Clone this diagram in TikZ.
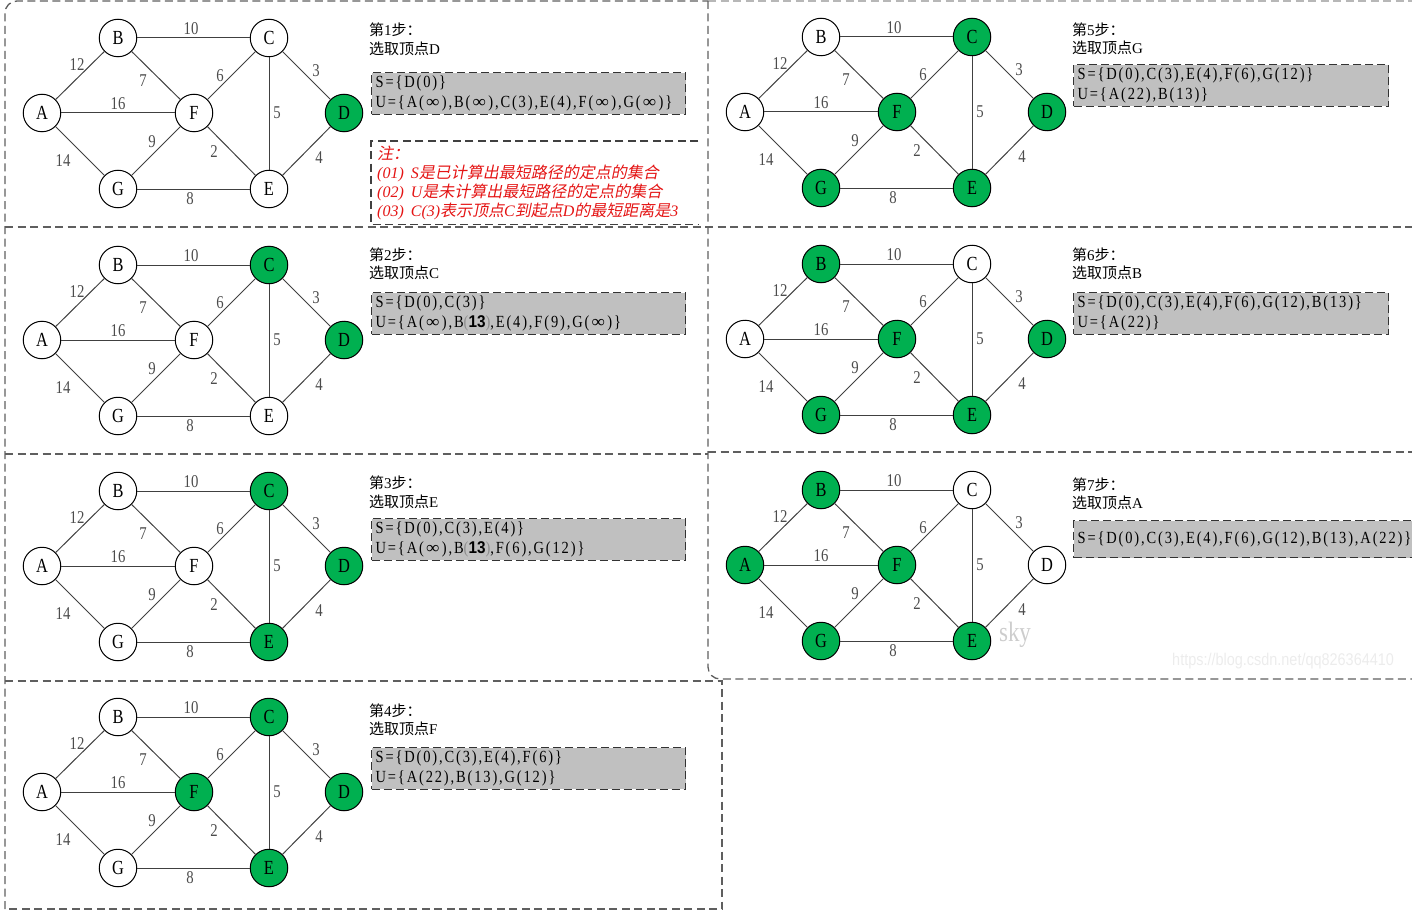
\documentclass[tikz,border=0pt]{standalone}
\usepackage{fontspec}
\usepackage{graphicx}
\usepackage{tikz}
\usetikzlibrary{positioning}
\setmainfont{Liberation Serif}
\newfontfamily\cjk{Noto Sans CJK SC}
\newfontfamily\cjkit[FakeSlant=0.2]{Noto Sans CJK SC}
\newfontfamily\narrow[FakeStretch=0.82]{Liberation Serif}
\newfontfamily\setfont[FakeStretch=0.85,LetterSpace=11]{Liberation Serif}
\newfontfamily\boldsans[FakeStretch=0.9]{Liberation Sans}
\newfontfamily\marksans[FakeStretch=0.85]{Liberation Sans}
\definecolor{VisitGreen}{RGB}{0,176,80}
\definecolor{BoxGray}{RGB}{192,192,192}
\definecolor{FrameGray}{RGB}{95,95,95}
\definecolor{NoteRed}{RGB}{228,20,20}
\definecolor{MarkGray}{RGB}{205,205,205}
\definecolor{UrlGray}{RGB}{236,236,236}

\tikzset{
  vertex/.style={circle,draw=black,line width=1pt,fill=white,minimum size=37.5pt,
    inner sep=0pt,font=\narrow\fontsize{20}{20}\selectfont},
  done/.style={fill=VisitGreen},
  vA/.style={},vB/.style={},vC/.style={},vD/.style={},vE/.style={},vF/.style={},vG/.style={},
  edge/.style={line width=1pt,draw=black!75},
  weight/.style={inner sep=0pt,text=black!70,font=\narrow\fontsize{18}{18}\selectfont},
  steptitle/.style={anchor=west,align=left,inner sep=0pt,font=\fontsize{15}{18.5}\selectfont},
  stepbox/.style={anchor=north west,draw=black!80,fill=BoxGray,line width=1.3pt,
    dash pattern=on 8pt off 4pt,inner xsep=4pt,align=left,
    font=\setfont\fontsize{17}{19.5}\selectfont},
  frame/.style={draw=FrameGray,line width=1.3pt,dash pattern=on 8pt off 4.5pt},
}
\newcommand{\zh}[1]{{\cjk #1}}
\newcommand{\infy}{\makebox[18pt]{\scalebox{1.3}[1]{∞}}}
\newcommand{\bthirteen}{{\color{black!45}(}{\boldsans\bfseries 13}{\color{black!45})}}
% one graph of the walk: name prefix, shift, visited vertices
\newcommand{\stepgraph}[3]{%
  \begin{scope}[shift={#2},#3]
    \node[vertex,vA] (#1A) at (42,113) {A};
    \node[vertex,vB] (#1B) at (118,38) {B};
    \node[vertex,vC] (#1C) at (269,38) {C};
    \node[vertex,vD] (#1D) at (344,113) {D};
    \node[vertex,vE] (#1E) at (269,189) {E};
    \node[vertex,vF] (#1F) at (194,113) {F};
    \node[vertex,vG] (#1G) at (118,189) {G};
    \foreach \a/\b/\w/\lx/\ly in {A/B/12/77/65,B/C/10/191/29,B/F/7/143/81,A/F/16/118/104,
        F/C/6/220/76,C/D/3/316/71,C/E/5/277/113,G/F/9/152/142,F/E/2/214/152,
        A/G/14/63/161,E/D/4/319/158,G/E/8/190/199}
      \draw[edge] (#1\a) -- (#1\b) node[weight] (#1w\a\b) at (\lx,\ly) {\w};
  \end{scope}}

\begin{document}
\begin{tikzpicture}[x=1pt,y=-1pt]
  \useasboundingbox (0,0) rectangle (1412,912);
  % dashed frames
  \draw[frame,rounded corners=12pt] (5,909) -- (5,1) -- (708,1);
  \draw[frame,draw=FrameGray!45] (708,1) -- (1412,1);
  \draw[frame,rounded corners=12pt] (708,1) -- (708,679) -- (1412,679);
  \draw[frame] (5,227) -- (1412,227);
  \draw[frame] (5,454) -- (708,454);
  \draw[frame] (708,452) -- (1412,452);
  \draw[frame] (5,681) -- (722,681) -- (722,909) -- (5,909);

  % left column
  \stepgraph{s1}{(0,0)}{vD/.style=done}
  \node[steptitle] (t1) at (369,39.5) {\zh{第}1\zh{步：}\\\zh{选取顶点}D};
  \node[stepbox,minimum width=314pt,minimum height=41pt,text width=306pt] (b1) at (371,72)
    {S=\{D(0)\}\\U=\{A(\infy),B(\infy),C(3),E(4),F(\infy),G(\infy)\}};
  \node[anchor=north west,minimum width=327pt,minimum height=83pt,inner xsep=6pt,
    text width=315pt,align=left,text=NoteRed,font=\itshape\fontsize{16}{19}\selectfont] (n1) at (371,141)
    {{\cjkit 注：}\\(01)\hspace{7pt}S{\cjkit 是已计算出最短路径的定点的集合}\\
     (02)\hspace{7pt}U{\cjkit 是未计算出最短路径的定点的集合}\\
     (03)\hspace{7pt}C(3){\cjkit 表示顶点}C{\cjkit 到起点}D{\cjkit 的最短距离是}3};
  \draw[frame,draw=black!75] (n1.north east) -| (n1.south west) -- (n1.south east);

  \stepgraph{s2}{(0,227)}{vC/.style=done,vD/.style=done}
  \node[steptitle] (t2) at (369,264) {\zh{第}2\zh{步：}\\\zh{选取顶点}C};
  \node[stepbox,minimum width=314pt,minimum height=40pt,text width=306pt] (b2) at (371,292)
    {S=\{D(0),C(3)\}\\U=\{A(\infy),B\bthirteen,E(4),F(9),G(\infy)\}};

  \stepgraph{s3}{(0,453)}{vC/.style=done,vD/.style=done,vE/.style=done}
  \node[steptitle] (t3) at (369,492.5) {\zh{第}3\zh{步：}\\\zh{选取顶点}E};
  \node[stepbox,minimum width=314pt,minimum height=41pt,text width=306pt] (b3) at (371,518)
    {S=\{D(0),C(3),E(4)\}\\U=\{A(\infy),B\bthirteen,F(6),G(12)\}};

  \stepgraph{s4}{(0,679)}{vC/.style=done,vD/.style=done,vE/.style=done,vF/.style=done}
  \node[steptitle] (t4) at (369,720) {\zh{第}4\zh{步：}\\\zh{选取顶点}F};
  \node[stepbox,minimum width=314pt,minimum height=41pt,text width=306pt] (b4) at (371,747)
    {S=\{D(0),C(3),E(4),F(6)\}\\U=\{A(22),B(13),G(12)\}};

  % right column
  \stepgraph{s5}{(703,-1)}{vC/.style=done,vD/.style=done,vE/.style=done,vF/.style=done,vG/.style=done}
  \node[steptitle] (t5) at (1072,39) {\zh{第}5\zh{步：}\\\zh{选取顶点}G};
  \node[stepbox,minimum width=315pt,minimum height=41pt,text width=307pt] (b5) at (1073,64)
    {S=\{D(0),C(3),E(4),F(6),G(12)\}\\U=\{A(22),B(13)\}};

  \stepgraph{s6}{(703,226)}{vB/.style=done,vD/.style=done,vE/.style=done,vF/.style=done,vG/.style=done}
  \node[steptitle] (t6) at (1072,264) {\zh{第}6\zh{步：}\\\zh{选取顶点}B};
  \node[stepbox,minimum width=315pt,minimum height=41pt,text width=307pt] (b6) at (1073,292)
    {S=\{D(0),C(3),E(4),F(6),G(12),B(13)\}\\U=\{A(22)\}};

  \stepgraph{s7}{(703,452)}{vA/.style=done,vB/.style=done,vE/.style=done,vF/.style=done,vG/.style=done}
  \node[steptitle] (t7) at (1072,494) {\zh{第}7\zh{步：}\\\zh{选取顶点}A};
  \node[stepbox,minimum width=360pt,minimum height=37pt,text width=352pt] (b7) at (1073,520)
    {S=\{D(0),C(3),E(4),F(6),G(12),B(13),A(22)\}};

  % watermarks
  \node[text=MarkGray,inner sep=0pt,font=\narrow\fontsize{28}{28}\selectfont] (mark1) at (1015,635) {sky};
  \node[anchor=west,text=UrlGray,inner sep=0pt,font=\marksans\fontsize{17}{17}\selectfont] (mark2) at (1172,661)
    {https://blog.csdn.net/qq826364410};
\end{tikzpicture}
\end{document}
